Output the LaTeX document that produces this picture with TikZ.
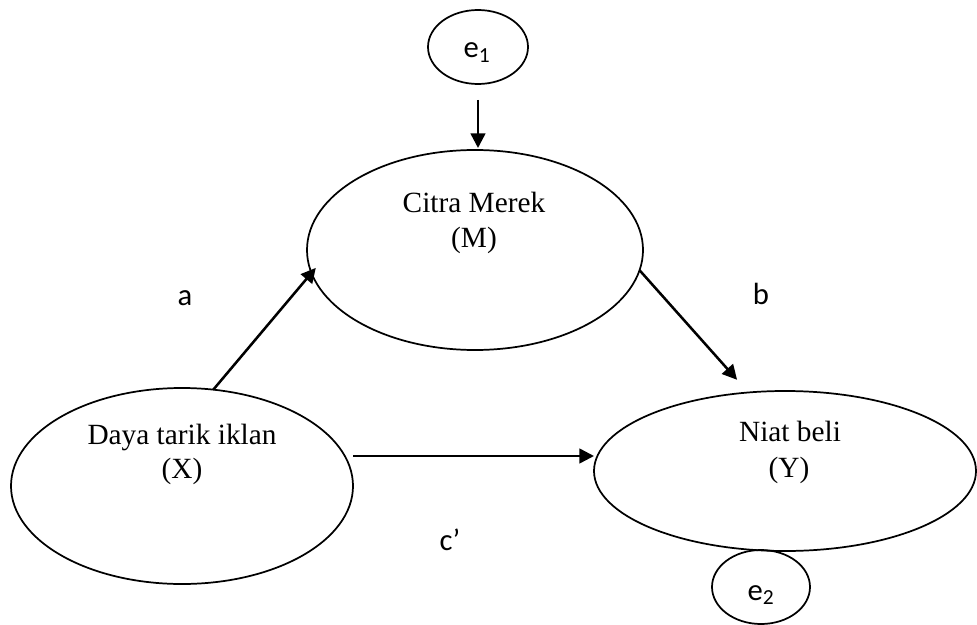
\documentclass[tikz,border=0pt]{standalone}
\usepackage{fontspec}
\setmainfont{Liberation Serif}
\newfontfamily\lblfont{Carlito}
\usetikzlibrary{shapes.geometric,arrows.meta}

\begin{document}
\begin{tikzpicture}[x=0.75pt,y=-0.75pt,
    var/.style={draw,ellipse,line width=1.3pt,inner sep=0pt,outer sep=0pt},
    vtxt/.style={anchor=base,font=\fontsize{22}{26}\selectfont},
    ltxt/.style={anchor=base,font=\lblfont\fontsize{23}{27}\selectfont},
    arr/.style={-{Triangle[length=11pt,width=11pt]},line width=1.9pt}]
        \useasboundingbox (0,0) rectangle (977,624);
        % variables
        \node[var,minimum width=252pt,minimum height=150pt] (m) at (475,250) {};
        \node[var,minimum width=256.5pt,minimum height=147pt] (x) at (182,486) {};
        \node[var,minimum width=286.5pt,minimum height=120pt] (y) at (785,471) {};
        \node[var,minimum width=75pt,minimum height=55.5pt] (e1) at (478,47) {};
        \node[var,minimum width=73.5pt,minimum height=55.5pt] (e2) at (761,587) {};
        \node[vtxt] (mname) at (474,212) {Citra Merek};
        \node[vtxt] (msym) at (474,247) {(M)};
        \node[vtxt] (xname) at (182,444) {Daya tarik iklan};
        \node[vtxt] (xsym) at (182,478) {(X)};
        \node[vtxt] (yname) at (790,441) {Niat beli};
        \node[vtxt] (ysym) at (789,477) {(Y)};
        \node[ltxt] (e1lbl) at (477,58) {e\textsubscript{1}};
        \node[ltxt] (e2lbl) at (761,600) {e\textsubscript{2}};
        % paths
        \node[ltxt] (alab) at (185,305) {a};
        \node[ltxt] (blab) at (761,304) {b};
        \node[ltxt] (clab) at (450,550) {c’};
        \draw[arr,shorten <=12pt,shorten >=1.5pt] (e1.south) -- (e1.south |- m.north);
        \draw[arr,shorten >=-5pt] (x.72) -- (m.188);
        \draw[arr,shorten >=12.75pt] (m.-7.5) -- (y.115.6);
        \coordinate (cs) at ([yshift=22.5pt]x.east);
        \draw[arr] (cs) -- (cs -| y.west);
\end{tikzpicture}
\end{document}
